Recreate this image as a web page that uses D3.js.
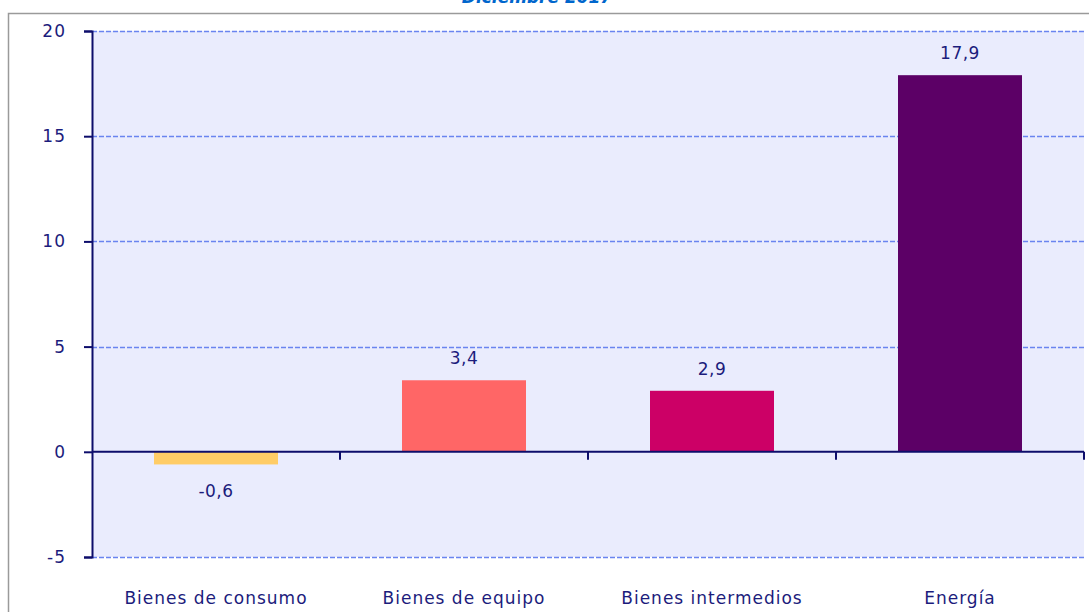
<!DOCTYPE html>
<html>
<head>
<meta charset="utf-8">
<script src="https://cdn.jsdelivr.net/npm/d3@7"></script>
<style>
  body { margin: 0; background: #fff; }
  svg text { font-family: "DejaVu Sans", Verdana, sans-serif; fill: #1c1c7c; }
</style>
</head>
<body>
<div id="chart"></div>
<script>
const categories = ["Bienes de consumo", "Bienes de equipo", "Bienes intermedios", "Energía"];
const values = [-0.6, 3.4, 2.9, 17.9];
const barColors = ["#ffcc66", "#ff6666", "#cc0066", "#5c0066"];
const yTicks = [-5, 0, 5, 10, 15, 20];
const title = "Diciembre 2017";

const width = 1089, height = 612;
const margin = { top: 31, right: 5, bottom: 55, left: 92 };

const svg = d3.select('#chart').append('svg')
    .attr('width', width)
    .attr('height', height);

// outer frame of the chart
svg.append('rect')
    .attr('x', 8.5).attr('y', 13.5)
    .attr('width', width).attr('height', height)
    .attr('fill', 'none')
    .attr('stroke', '#9a9a9a')
    .attr('stroke-width', 1.5);

svg.append('text')
    .attr('x', 537).attr('y', 3)
    .attr('text-anchor', 'middle')
    .style('font-weight', 'bold')
    .style('font-style', 'italic')
    .style('font-size', '17px')
    .style('fill', '#0066cc')
    .text(title);

const x = d3.scaleBand()
    .domain(categories)
    .range([margin.left, width - margin.right])
    .paddingInner(0.5)
    .paddingOuter(0.25);

const y = d3.scaleLinear()
    .domain([-5, 20])
    .range([height - margin.bottom, margin.top]);

// plot background
svg.append('rect')
    .attr('x', margin.left).attr('y', y(20))
    .attr('width', width - margin.right - margin.left)
    .attr('height', y(-5) - y(20))
    .attr('fill', '#eaecfd');

// grid lines
svg.append('g')
    .selectAll('line')
    .data(yTicks.filter(d => d !== 0))
    .enter().append('line')
    .attr('x1', margin.left).attr('x2', width - margin.right)
    .attr('y1', d => Math.round(y(d)) + 0.5)
    .attr('y2', d => Math.round(y(d)) + 0.5)
    .attr('stroke', '#6a84f0')
    .attr('stroke-width', 1.3)
    .attr('stroke-dasharray', '5,2');

// bars
svg.append('g')
    .selectAll('rect')
    .data(values)
    .enter().append('rect')
    .attr('x', (d, i) => x(categories[i]))
    .attr('width', x.bandwidth())
    .attr('y', d => y(Math.max(0, d)))
    .attr('height', d => Math.abs(y(d) - y(0)))
    .attr('fill', (d, i) => barColors[i]);

// value labels
svg.append('g')
    .selectAll('text')
    .data(values)
    .enter().append('text')
    .attr('x', (d, i) => x(categories[i]) + x.bandwidth() / 2)
    .attr('y', d => d >= 0 ? y(d) - 16 : y(d) + 33)
    .attr('text-anchor', 'middle')
    .style('font-size', '17px')
    .style('letter-spacing', '0.5px')
    .text(d => d3.format('.1f')(d).replace('.', ',').replace('−', '-'));

// y axis
const yAxis = svg.append('g')
    .attr('transform', 'translate(' + margin.left + ',0)')
    .call(d3.axisLeft(y).tickValues(yTicks).tickSize(8).tickPadding(18).tickFormat(d3.format('d')));
yAxis.select('.domain').attr('stroke', '#0d0d6b').attr('stroke-width', 2);
yAxis.selectAll('.tick line').attr('stroke', '#0d0d6b').attr('stroke-width', 2);
yAxis.selectAll('.tick text')
    .style('font-size', '17px')
    .style('letter-spacing', '1px')
    .attr('fill', '#1c1c7c')
    .text(d => String(d).replace('−', '-'));

// zero line with category ticks
const xAxis = svg.append('g')
    .attr('transform', 'translate(0,' + y(0) + ')');
xAxis.append('line')
    .attr('x1', margin.left).attr('x2', width - margin.right)
    .attr('stroke', '#0d0d6b').attr('stroke-width', 2);
xAxis.selectAll('.ctick')
    .data(categories)
    .enter().append('line')
    .attr('class', 'ctick')
    .attr('x1', d => x(d) + x.bandwidth() * 1.5)
    .attr('x2', d => x(d) + x.bandwidth() * 1.5)
    .attr('y1', 0).attr('y2', 8)
    .attr('stroke', '#0d0d6b').attr('stroke-width', 2);

// category labels
svg.append('g')
    .selectAll('text')
    .data(categories)
    .enter().append('text')
    .attr('x', d => x(d) + x.bandwidth() / 2)
    .attr('y', 604)
    .attr('text-anchor', 'middle')
    .style('font-size', '17px')
    .style('letter-spacing', '1px')
    .text(d => d);
</script>
</body>
</html>
